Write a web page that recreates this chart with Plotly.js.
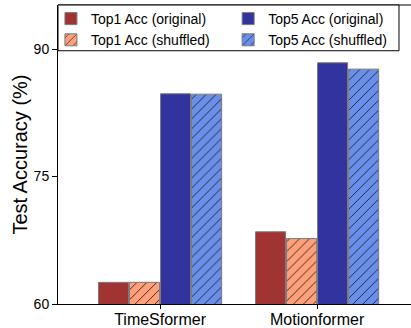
<!DOCTYPE html>
<html>
<head>
<meta charset="utf-8">
<script src="https://cdn.plot.ly/plotly-3.0.1.min.js"></script>
<style>html,body{margin:0;padding:0;background:#fff;overflow:hidden}</style>
</head>
<body>
<div id="chart" style="width:411px;height:328px"></div>
<script>
const categories = ["TimeSformer", "Motionformer"];
const top1Original = [62.55, 68.5];
const top1Shuffled = [62.55, 67.7];
const top5Original = [84.75, 88.4];
const top5Shuffled = [84.7, 87.65];
const yTicks = [60, 75, 90];

const edge = {color: "#7a7a7a", width: 1};
function bar(name, y, color, hatched, legendId) {
  const m = {color: color, line: edge};
  if (hatched) {
    m.pattern = {shape: "/", fgcolor: "#1a1a1a", bgcolor: color, size: 7, solidity: 0.12, fillmode: "replace"};
  }
  return {type: "bar", name: name, x: categories, y: y, marker: m, legend: legendId, hoverinfo: "none"};
}
const data = [
  bar("Top1 Acc (original)", top1Original, "#A23333", false, "legend"),
  bar("Top1 Acc (shuffled)", top1Shuffled, "#FFA07A", true, "legend"),
  bar("Top5 Acc (original)", top5Original, "#3333A0", false, "legend2"),
  bar("Top5 Acc (shuffled)", top5Shuffled, "#6A8FEA", true, "legend2")
];
const font = {family: "Liberation Sans, Arial, sans-serif", color: "#000"};
const legendBase = {
  orientation: "v", xanchor: "left", y: 1.0067, yanchor: "top",
  borderwidth: 0, bgcolor: "rgba(0,0,0,0)", tracegroupgap: 0,
  font: Object.assign({size: 14}, font), traceorder: "normal"
};
const layout = {
  width: 411, height: 328,
  margin: {l: 58, r: 0, t: 5, b: 24},
  paper_bgcolor: "#fff", plot_bgcolor: "#fff",
  font: Object.assign({size: 14}, font),
  barmode: "group", bargap: 0.21, bargroupgap: 0.03,
  showlegend: true,
  legend: Object.assign({x: -0.02}, legendBase),
  legend2: Object.assign({x: 0.482}, legendBase),
  xaxis: {
    range: [-0.65, 1.598], showgrid: false, zeroline: false,
    showline: true, linecolor: "#000", linewidth: 1,
    ticks: "outside", ticklen: 4, tickcolor: "#000",
    ticklabelstandoff: -3,
    tickfont: Object.assign({size: 16}, font)
  },
  yaxis: {
    range: [60, 95.2], tickvals: yTicks, showgrid: false, zeroline: false,
    showline: true, linecolor: "#000", linewidth: 1,
    ticks: "outside", ticklen: 5, tickcolor: "#000",
    tickfont: Object.assign({size: 14}, font),
    title: {text: "Test Accuracy (%)", font: Object.assign({size: 20}, font), standoff: 0}
  },
  shapes: [
    {type: "line", xref: "paper", yref: "paper", x0: 0, x1: 1, y0: 1, y1: 1, line: {color: "#000", width: 1}},
    {type: "rect", xref: "paper", yref: "paper", x0: 0, x1: 0.966, y0: 0.847, y1: 1, fillcolor: "#fff", line: {color: "#000", width: 1}, layer: "above"}
  ]
};
Plotly.newPlot("chart", data, layout, {staticPlot: true, displayModeBar: false});
</script>
</body>
</html>
